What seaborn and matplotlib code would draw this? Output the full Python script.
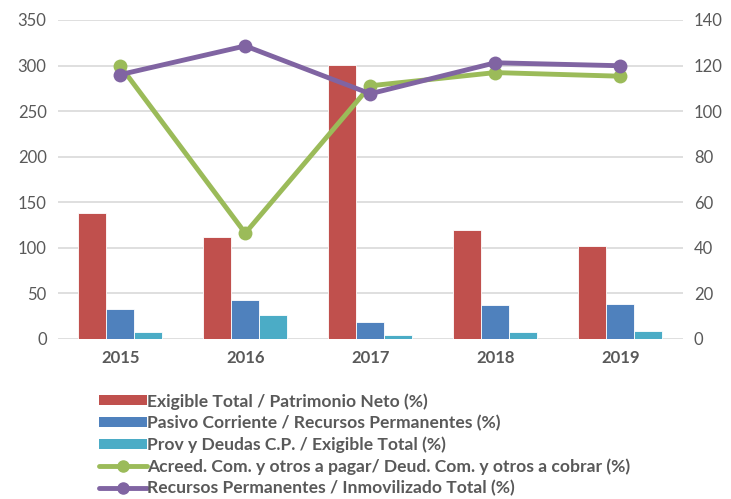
import pandas as pd
import matplotlib.pyplot as plt
import seaborn as sns
from matplotlib.lines import Line2D
from matplotlib.patches import Patch

years = ["2015", "2016", "2017", "2018", "2019"]
exigible_patrimonio = [138, 111.6, 300.4, 118.9, 102.4]
pasivo_recursos = [32.6, 42.8, 18.7, 37, 38]
prov_exigible = [7.3, 26.3, 4, 8, 8.8]
acreed_deud = [119.8, 46.4, 111.1, 116.9, 115.3]
recursos_inmov = [116, 128.6, 107.6, 121.2, 119.9]

bar_names = [
    "Exigible Total / Patrimonio Neto (%)",
    "Pasivo Corriente / Recursos Permanentes (%)",
    "Prov y Deudas C.P. / Exigible Total (%)",
]
line_names = [
    "Acreed. Com. y otros a pagar/ Deud. Com. y otros a cobrar (%)",
    "Recursos Permanentes / Inmovilizado Total (%)",
]
bar_colors = ["#C0504D", "#4F81BD", "#4BACC6"]
line_colors = ["#9BBB59", "#8064A2"]
text_color = "#595959"

sns.set_style("white")
plt.rcParams["font.family"] = ["Lato", "DejaVu Sans"]

bars = pd.DataFrame({
    "year": years * 3,
    "serie": [n for n in bar_names for _ in years],
    "valor": exigible_patrimonio + pasivo_recursos + prov_exigible,
})
lines = pd.DataFrame({
    "pos": list(range(len(years))) * 2,
    "serie": [n for n in line_names for _ in years],
    "valor": acreed_deud + recursos_inmov,
})

fig = plt.figure(figsize=(7.31, 4.99), dpi=100)
ax = fig.add_axes([0.079, 0.321, 0.855, 0.639])

sns.barplot(data=bars, x="year", y="valor", hue="serie", palette=bar_colors,
            saturation=1, width=0.67, edgecolor="white", linewidth=0.6,
            ax=ax, legend=False)
ax.set_ylim(0, 350)
ax.set_yticks(range(0, 351, 50))
ax.set_xlim(-0.5, 4.5)
ax.yaxis.grid(True, color="#D9D9D9", linewidth=1.2)
ax.set_axisbelow(True)
ax.set_xlabel("")
ax.set_ylabel("")
for s in ax.spines.values():
    s.set_visible(False)
ax.tick_params(axis="both", length=0, labelsize=12, colors=text_color, pad=8)
for lbl in ax.get_xticklabels():
    lbl.set_fontweight("bold")

ax2 = ax.twinx()
sns.lineplot(data=lines, x="pos", y="valor", hue="serie", palette=line_colors,
             marker="o", markersize=10, markeredgewidth=0, linewidth=3.5,
             ax=ax2, legend=False)
ax2.set_ylim(0, 140)
ax2.set_yticks(range(0, 141, 20))
ax2.set_xlim(-0.5, 4.5)
ax2.set_xlabel("")
ax2.set_ylabel("")
for s in ax2.spines.values():
    s.set_visible(False)
ax2.tick_params(axis="y", length=0, labelsize=12, colors=text_color, pad=8)

handles = [Patch(facecolor=c, edgecolor="none") for c in bar_colors]
handles += [Line2D([0], [0], color=c, linewidth=3.5, marker="o", markersize=8)
            for c in line_colors]
fig.legend(handles, bar_names + line_names, loc="upper left",
           bbox_to_anchor=(0.124, 0.23), frameon=False, ncol=1,
           handlelength=2.7, handleheight=0.5, handletextpad=0.0,
           labelspacing=0.3, borderpad=0,
           prop={"size": 12.6, "weight": "bold"}, labelcolor=text_color)

fig.savefig("out.png", dpi=100)
